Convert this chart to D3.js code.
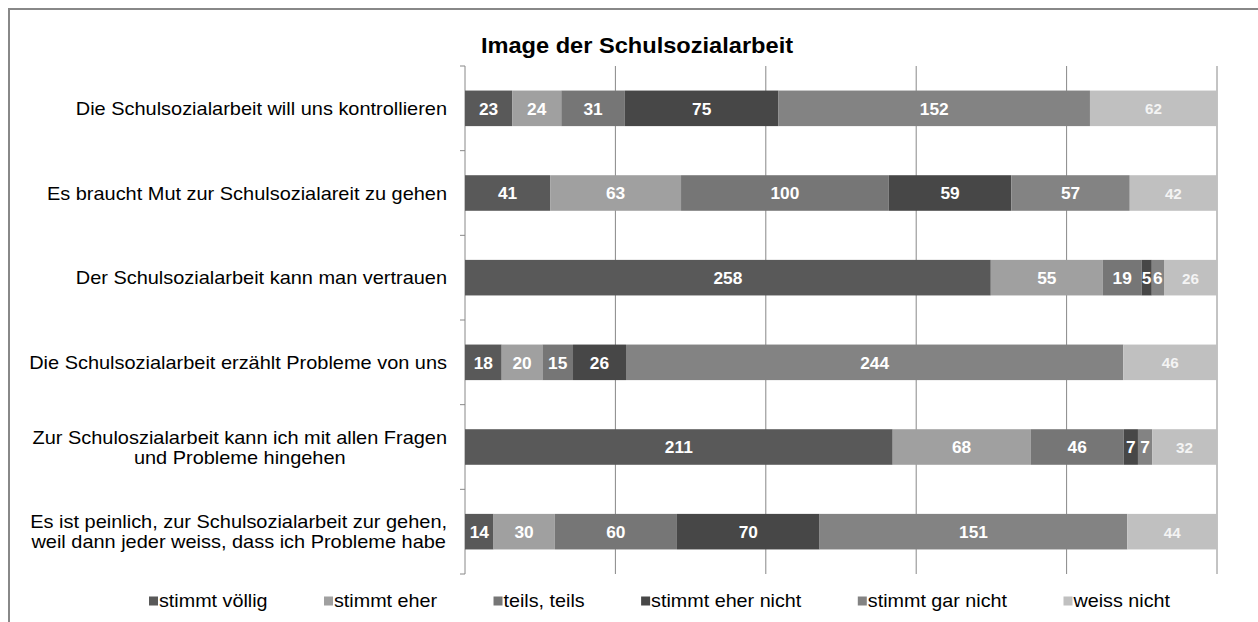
<!DOCTYPE html>
<html><head><meta charset="utf-8">
<script src="https://cdn.jsdelivr.net/npm/d3@7"></script>
<style>
html,body{margin:0;padding:0;background:#fff;}
svg{display:block;font-family:"Liberation Sans",Arial,sans-serif;}
</style></head>
<body>
<svg id="chart" width="1258" height="622"></svg>
<script>
const title = "Image der Schulsozialarbeit";
const categories = [
  ["Die Schulsozialarbeit will uns kontrollieren"],
  ["Es braucht Mut zur Schulsozialareit zu gehen"],
  ["Der Schulsozialarbeit kann man vertrauen "],
  ["Die Schulsozialarbeit erzählt Probleme von uns"],
  ["Zur Schuloszialarbeit kann ich mit allen Fragen", "und Probleme hingehen"],
  ["Es ist peinlich, zur Schulsozialarbeit zur gehen,", "weil dann jeder weiss, dass ich Probleme habe"]
];
const seriesNames = ["stimmt völlig","stimmt eher","teils, teils","stimmt eher nicht","stimmt gar nicht","weiss nicht"];
const stimmtVoellig   = [23, 41, 258, 18, 211, 14];
const stimmtEher      = [24, 63, 55, 20, 68, 30];
const teilsTeils      = [31, 100, 19, 15, 46, 60];
const stimmtEherNicht = [75, 59, 5, 26, 7, 70];
const stimmtGarNicht  = [152, 57, 6, 244, 7, 151];
const weissNicht      = [62, 42, 26, 46, 32, 44];
const gridTicks = [0, 0.2, 0.4, 0.6, 0.8, 1];

const seriesValues = [stimmtVoellig, stimmtEher, teilsTeils, stimmtEherNicht, stimmtGarNicht, weissNicht];
const colors = ["#595959","#a0a0a0","#767676","#474747","#838383","#c0c0c0"];
const SX = 1.05; // slight horizontal stretch of text in the reference

const svg = d3.select("#chart");
const keys = seriesNames;
const rows = categories.map((c, i) => {
  const r = {cat: i};
  keys.forEach((k, j) => r[k] = seriesValues[j][i]);
  return r;
});
const stacked = d3.stack().keys(keys).offset(d3.stackOffsetExpand)(rows);

const pL = 465, pR = 1217, pT = 66, pB = 574;
const x = d3.scaleLinear().domain([0,1]).range([pL, pR]);
const y = d3.scaleBand().domain(d3.range(categories.length)).range([pT, pB])
  .paddingInner(0.58).paddingOuter(0.29);

// border
svg.append("path").attr("d", `M9,622 L9,9 L1258,9`).attr("fill","none")
  .attr("stroke","#888").attr("stroke-width",2);

// gridlines
svg.append("g").selectAll("line").data(gridTicks.slice(1)).join("line")
  .attr("x1", d => x(d)).attr("x2", d => x(d))
  .attr("y1", pT).attr("y2", pB)
  .attr("stroke", "#888").attr("stroke-width", 1);

// left axis
const step = y.step();
svg.append("line").attr("x1", pL).attr("x2", pL).attr("y1", pT).attr("y2", pB)
  .attr("stroke","#888").attr("stroke-width",1);
svg.append("g").selectAll("line").data(d3.range(categories.length + 1)).join("line")
  .attr("x1", pL - 5).attr("x2", pL)
  .attr("y1", i => pT + i * step).attr("y2", i => pT + i * step)
  .attr("stroke","#888").attr("stroke-width",1);

// bars
const g = svg.append("g");
stacked.forEach((s, j) => {
  g.selectAll(null).data(s).join("rect")
    .attr("x", d => x(d[0])).attr("width", d => x(d[1]) - x(d[0]))
    .attr("y", (d, i) => y(i)).attr("height", y.bandwidth())
    .attr("fill", colors[j]);
});

function stretchedText(parent, tx, ty, str, opts) {
  return parent.append("text")
    .attr("transform", `translate(${tx},${ty}) scale(${SX},1)`)
    .attr("text-anchor", opts.anchor || "start")
    .attr("dominant-baseline", "central")
    .attr("font-size", opts.size)
    .attr("font-weight", opts.weight || "normal")
    .attr("fill", opts.fill || "#000")
    .text(str);
}

// value labels
stacked.forEach((s, j) => {
  s.forEach((d, i) => {
    const cx = (x(d[0]) + x(d[1])) / 2;
    const cy = y(i) + y.bandwidth() / 2;
    const last = j === keys.length - 1;
    stretchedText(svg, cx, cy + 1, seriesValues[j][i], {
      anchor: "middle", size: last ? 14.5 : 16.5, weight: "bold",
      fill: last ? "#f4f4f4" : "#fff"
    });
  });
});

// category labels
const labelRight = 447, labelSize = 19.0;
categories.forEach((lines, i) => {
  const cy = y(i) + y.bandwidth() / 2;
  const lh = 20;
  const widths = lines.map(l => {
    const t = stretchedText(svg, 0, 0, l, {size: labelSize});
    const w = t.node().getComputedTextLength() * SX;
    t.remove();
    return w;
  });
  const maxW = d3.max(widths);
  const cx = labelRight - maxW / 2;
  lines.forEach((l, k) => {
    const ly = cy + (k - (lines.length - 1) / 2) * lh;
    stretchedText(svg, cx, ly, l, {size: labelSize, anchor: "middle"});
  });
});

// title
stretchedText(svg, 637, 45, title, {size: 22.5, weight: "bold", anchor: "middle"});

// legend
const legendY = 601, sq = 9, legendStart = 149, legendEnd = 1170;
const lg = svg.append("g");
const items = seriesNames.map((n, j) => {
  const t = stretchedText(lg, 0, legendY, n, {size: 18.8});
  const w = t.node().getComputedTextLength() * SX;
  return {t, w, j};
});
const itemsW = d3.sum(items, d => sq + 1 + d.w);
const gap = (legendEnd - legendStart - itemsW) / (items.length - 1);
let cur = legendStart;
items.forEach(it => {
  lg.append("rect").attr("x", cur).attr("y", legendY - sq / 2).attr("width", sq).attr("height", sq)
    .attr("fill", colors[it.j]);
  it.t.attr("transform", `translate(${cur + sq + 1},${legendY}) scale(${SX},1)`);
  cur += sq + 1 + it.w + gap;
});
</script>
</body></html>
